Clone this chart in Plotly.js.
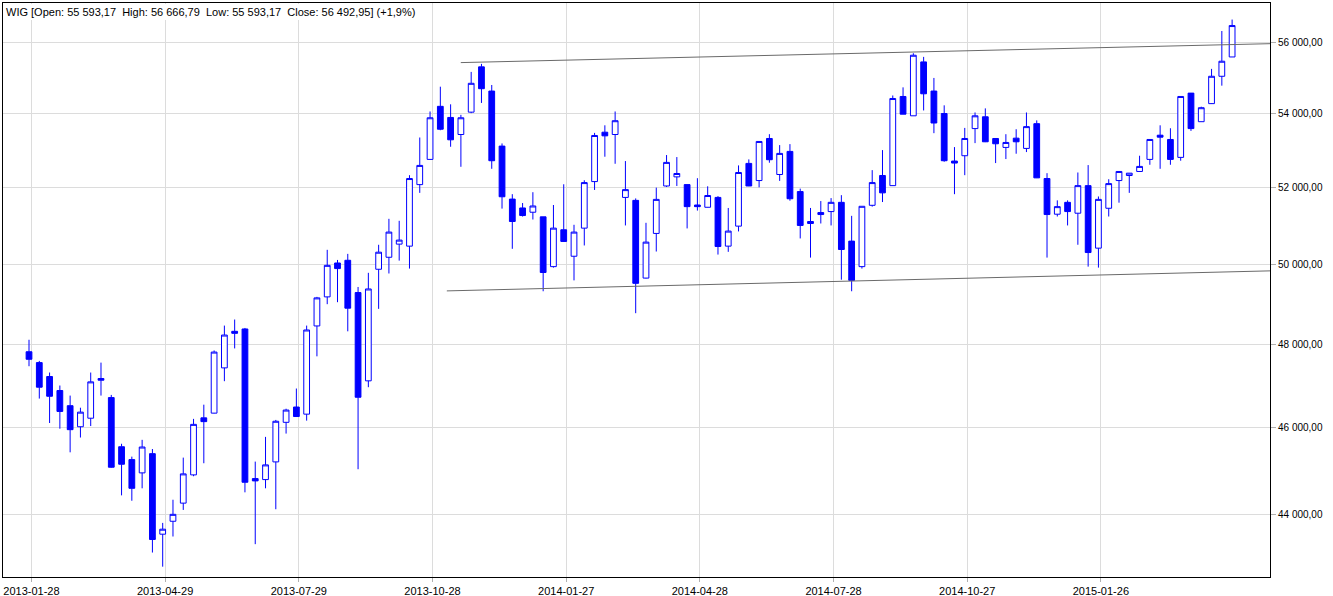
<!DOCTYPE html>
<html>
<head>
<meta charset="utf-8">
<script src="https://cdn.plot.ly/plotly-3.0.1.min.js"></script>
<style>
  html, body { margin: 0; padding: 0; background: #ffffff; }
  #chart { width: 1333px; height: 596px; }
</style>
</head>
<body>
<div id="chart"></div>
<script>
// Weekly candles of the WIG index
const weeks = [
  "2013-01-28","2013-02-04","2013-02-11","2013-02-18","2013-02-25","2013-03-04","2013-03-11","2013-03-18","2013-03-25",
  "2013-04-01","2013-04-08","2013-04-15","2013-04-22","2013-04-29","2013-05-06","2013-05-13","2013-05-20","2013-05-27",
  "2013-06-03","2013-06-10","2013-06-17","2013-06-24","2013-07-01","2013-07-08","2013-07-15","2013-07-22","2013-07-29",
  "2013-08-05","2013-08-12","2013-08-19","2013-08-26","2013-09-02","2013-09-09","2013-09-16","2013-09-23","2013-09-30",
  "2013-10-07","2013-10-14","2013-10-21","2013-10-28","2013-11-04","2013-11-11","2013-11-18","2013-11-25","2013-12-02",
  "2013-12-09","2013-12-16","2013-12-23","2013-12-30",
  "2014-01-06","2014-01-13","2014-01-20","2014-01-27","2014-02-03","2014-02-10","2014-02-17","2014-02-24","2014-03-03",
  "2014-03-10","2014-03-17","2014-03-24","2014-03-31","2014-04-07","2014-04-14","2014-04-21","2014-04-28","2014-05-05",
  "2014-05-12","2014-05-19","2014-05-26","2014-06-02","2014-06-09","2014-06-16","2014-06-23","2014-06-30","2014-07-07",
  "2014-07-14","2014-07-21","2014-07-28","2014-08-04","2014-08-11","2014-08-18","2014-08-25","2014-09-01","2014-09-08",
  "2014-09-15","2014-09-22","2014-09-29","2014-10-06","2014-10-13","2014-10-20","2014-10-27","2014-11-03","2014-11-10",
  "2014-11-17","2014-11-24","2014-12-01","2014-12-08","2014-12-15","2014-12-22","2014-12-29",
  "2015-01-05","2015-01-12","2015-01-19","2015-01-26","2015-02-02","2015-02-09","2015-02-16","2015-02-23","2015-03-02",
  "2015-03-09","2015-03-16","2015-03-23","2015-03-30","2015-04-06","2015-04-13","2015-04-20","2015-04-27"
];

const openVals = [
  47814,47549,47212,46875,46513,46015,46216,47164,46706,45547,45248,44942,45386,43555,43844,44252,44896,46224,46336,47421,
  48316,48374,44811,44788,45195,46119,46481,46312,48449,49174,50034,50103,49283,47108,49874,50181,50519,50467,52080,52756,
  54207,53900,53432,54046,55312,54632,53116,51696,51462,51350,51229,49941,50891,50207,50934,52161,53495,53432,51740,51662,
  49649,50796,52044,52287,52080,51540,51480,51740,50467,50986,52648,52188,53323,52350,52972,51895,51107,51341,51367,51610,
  50597,49941,51532,52323,52053,54481,53945,55453,54632,54008,52711,52855,53594,53918,53323,53080,53332,53053,53729,52242,
  51298,51610,51324,52053,50415,51454,52188,52323,52431,52756,53413,53296,52810,54575,53783,54282,55047,55593.17
];
const highVals = [
  48108,47590,47308,46995,46754,46465,47308,47549,46770,45616,45317,45708,45494,43807,44329,45294,46200,46537,47846,48458,
  48608,48399,45202,45777,46176,46441,46923,48458,49174,50372,50112,50268,49424,49783,50502,51177,51125,52332,53350,54065,
  54754,54263,53972,55170,55397,54802,53188,51826,51592,51878,51229,51540,52089,51021,52197,53476,53684,54065,52711,51714,
  51073,52000,52873,52819,52080,52251,52035,51774,51462,52594,52756,53242,53440,53143,53170,51973,51462,51644,51722,51800,
  51255,51506,52467,53008,54509,54736,55699,55595,55000,54235,53089,53612,54037,54150,53323,53440,53576,54037,53819,52386,
  51662,51662,52404,52603,51765,52224,52431,52386,52855,53296,53684,53603,54481,54575,54197,55255,56336,56666.79
];
const lowVals = [
  47461,46682,46103,45969,45417,45762,46031,46754,45060,44428,44306,44589,43148,42837,43503,44099,44865,45164,46330,47099,
  47895,44497,43333,44589,44114,45854,46250,46159,47702,48991,49041,48316,45026,46955,48874,49766,50095,49891,51861,52750,
  53549,53098,52557,54018,54301,52503,51445,50398,51237,51159,49316,49916,50580,49591,50484,51938,52828,52638,51004,48766,
  49640,50328,52017,52044,50926,51393,51475,50250,50320,50848,52040,52008,52666,52179,51653,50666,50172,51055,51004,49608,
  49316,49891,51497,51618,52050,53990,53945,54093,53468,52693,51826,52332,53197,53225,52657,52765,52909,52954,52255,50172,
  51237,51004,50502,49941,49916,51237,51601,51861,52425,52611,52503,52611,52720,53530,53780,54275,54783,55593.17
];
const closeVals = [
  47630,46955,46738,46376,45946,46360,47083,47123,45072,45141,44589,45540,43437,43666,43999,44919,46071,46135,47806,48224,
  48266,44727,44758,45126,46144,46409,46256,48349,49149,49974,49891,48891,46714,49374,50311,50831,50623,52242,52594,53891,
  53576,53287,53891,54849,54698,52720,51757,51107,51263,51514,49791,50934,50588,50831,52134,53405,53395,53810,51947,49516,
  50571,51688,52675,52377,51497,51497,51791,50458,50857,52404,52044,53242,52747,52918,51705,51004,51055,51289,51610,50380,
  49591,51506,52134,51861,54424,53990,55642,54556,53747,52720,52657,53323,53945,53233,53179,53215,53233,53648,52260,51289,
  51497,51367,52053,50302,51688,52107,52431,52386,52567,53296,53359,52756,54481,53594,54169,55047,55472,56492.95
];

// Hand-drawn channel lines (start / end points)
const upperLineX = ["2013-11-17 22:00", "2015-05-22 19:00"];
const upperLineY = [55433, 55972];
const lowerLineX = ["2013-11-08 10:00", "2015-05-22 19:00"];
const lowerLineY = [49325, 49833];

// Axis ticks
const xTickDates = ["2013-01-28","2013-04-29","2013-07-29","2013-10-28","2014-01-27","2014-04-28","2014-07-28","2014-10-27","2015-01-26"];
const yTickVals = [44000, 46000, 48000, 50000, 52000, 54000, 56000];
const yTickLabels = ["44 000,00","46 000,00","48 000,00","50 000,00","52 000,00","54 000,00","56 000,00"];

const titleText = "WIG [Open: 55\u00a0593,17\u00a0\u00a0High: 56\u00a0666,79\u00a0\u00a0Low: 55\u00a0593,17\u00a0\u00a0Close: 56\u00a0492,95] (+1,9%)";

// grid lines sit slightly right of the candle centres in the reference
const tickShiftMs = 40 * 3600 * 1000;
const xTickVals = xTickDates.map(d => new Date(new Date(d + "T00:00:00Z").getTime() + tickShiftMs).toISOString().replace("T", " ").slice(0, 19));

const FONT = '"Liberation Sans", Arial, sans-serif';
const BLUE = '#0000ff';

const traces = [
  {
    type: 'candlestick',
    x: weeks, open: openVals, high: highVals, low: lowVals, close: closeVals,
    increasing: { line: { color: BLUE, width: 1 }, fillcolor: '#ffffff' },
    decreasing: { line: { color: BLUE, width: 1 }, fillcolor: BLUE },
    whiskerwidth: 0,
    hoverinfo: 'skip',
    showlegend: false
  },
  {
    type: 'scatter', mode: 'lines', x: upperLineX, y: upperLineY,
    line: { color: '#6a6a6a', width: 1 }, hoverinfo: 'skip', showlegend: false
  },
  {
    type: 'scatter', mode: 'lines', x: lowerLineX, y: lowerLineY,
    line: { color: '#6a6a6a', width: 1 }, hoverinfo: 'skip', showlegend: false
  }
];

const layout = {
  width: 1333, height: 596,
  margin: { l: 3, r: 63, t: 3, b: 19, pad: 0 },
  paper_bgcolor: '#ffffff', plot_bgcolor: '#ffffff',
  font: { family: FONT, size: 11, color: '#000000' },
  showlegend: false,
  hovermode: false,
  boxgap: 0.2,
  xaxis: {
    type: 'date',
    range: ["2013-01-10 07:00", "2015-05-22 19:00"],
    rangeslider: { visible: false },
    tickmode: 'array', tickvals: xTickVals, ticktext: xTickDates,
    showgrid: true, gridcolor: '#dcdcdc', gridwidth: 1,
    showline: true, linecolor: '#000000', linewidth: 1, mirror: true,
    ticks: 'outside', ticklen: 4, tickcolor: '#b0b0b0', tickwidth: 1,
    tickfont: { family: FONT, size: 11, color: '#000000' },
    zeroline: false, fixedrange: true
  },
  yaxis: {
    type: 'log', side: 'right',
    range: [4.629528, 4.757005],
    tickmode: 'array', tickvals: yTickVals, ticktext: yTickLabels,
    showgrid: true, gridcolor: '#dcdcdc', gridwidth: 1,
    showline: true, linecolor: '#000000', linewidth: 1, mirror: true,
    ticks: 'outside', ticklen: 5, tickcolor: '#b0b0b0', tickwidth: 1,
    tickfont: { family: FONT, size: 10, color: '#000000' },
    zeroline: false, fixedrange: true
  },
  annotations: [{
    xref: 'paper', yref: 'paper', x: 0, y: 1,
    xanchor: 'left', yanchor: 'top', xshift: 1, yshift: -1,
    text: titleText, showarrow: false, align: 'left',
    font: { family: FONT, size: 11, color: '#000000' },
    bgcolor: '#ffffff', borderpad: 2, borderwidth: 0
  }]
};

Plotly.newPlot('chart', traces, layout, { displayModeBar: false, staticPlot: true });
</script>
</body>
</html>
